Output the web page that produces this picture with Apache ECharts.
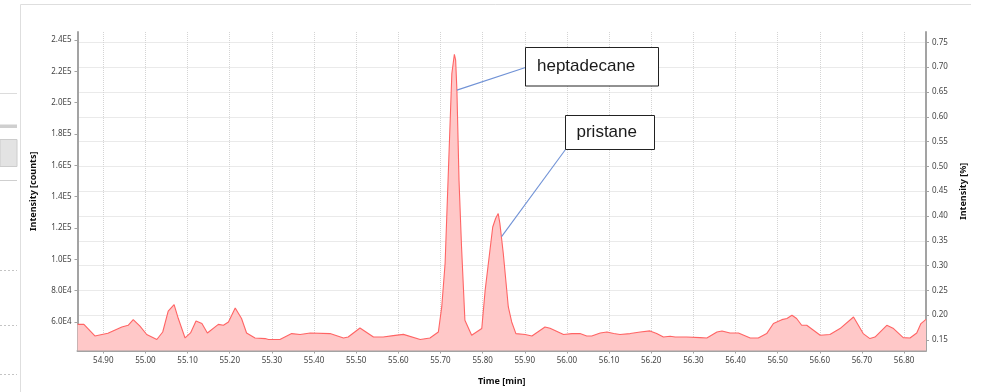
<!DOCTYPE html>
<html>
<head>
<meta charset="utf-8">
<script src="https://cdn.jsdelivr.net/npm/echarts@6/dist/echarts.min.js"></script>
<style>
  html, body { margin: 0; padding: 0; background: #fff; }
  #chart { width: 984px; height: 392px; }
</style>
</head>
<body>
<div id="chart"></div>
<script>
// Retention time (min) of each scan and its total ion intensity (counts)
const times = [
  54.839, 54.854, 54.880, 54.911, 54.944, 54.959, 54.971, 54.987, 55.003, 55.027,
  55.041, 55.054, 55.068, 55.078, 55.094, 55.107, 55.120, 55.134, 55.147, 55.173,
  55.185, 55.197, 55.213, 55.228, 55.240, 55.260, 55.284, 55.292, 55.319, 55.347,
  55.367, 55.391, 55.438, 55.470, 55.481, 55.509, 55.541, 55.564, 55.588, 55.612,
  55.652, 55.675, 55.695, 55.703, 55.711, 55.718, 55.727, 55.733, 55.736, 55.739,
  55.744, 55.750, 55.758, 55.774, 55.798, 55.806, 55.824, 55.831, 55.837, 55.841,
  55.849, 55.861, 55.869, 55.879, 55.901, 55.917, 55.948, 55.960, 55.992, 56.012,
  56.031, 56.047, 56.059, 56.079, 56.095, 56.111, 56.126, 56.150, 56.174, 56.197,
  56.213, 56.229, 56.245, 56.257, 56.284, 56.316, 56.332, 56.356, 56.368, 56.387,
  56.407, 56.435, 56.454, 56.474, 56.490, 56.510, 56.522, 56.534, 56.545, 56.557,
  56.569, 56.601, 56.624, 56.648, 56.680, 56.703, 56.719, 56.731, 56.759, 56.775,
  56.798, 56.814, 56.830, 56.840, 56.852
];
const intensities = [
  58500, 58500, 51100, 52800, 56800, 57900, 61500, 57300, 52000, 48800,
  53600, 67000, 71100, 62200, 49800, 53000, 60600, 59000, 53000, 58500,
  57900, 60000, 68900, 62200, 53000, 49800, 49400, 48800, 48800, 52600,
  52000, 53000, 52600, 49800, 50400, 56200, 50400, 50400, 51300, 52100,
  48800, 49800, 53600, 69600, 97500, 150500, 218600, 230900, 227100, 208000,
  150500, 107900, 61100, 51500, 55800, 80200, 120600, 126200, 129200, 122800,
  103900, 69600, 60000, 52600, 52000, 51100, 56800, 56000, 52000, 52600,
  52600, 51100, 51100, 53000, 53600, 52600, 52000, 52600, 53600, 54300,
  52600, 50400, 50900, 50400, 50400, 50000, 49800, 53600, 54300, 53000,
  53000, 49800, 49800, 52600, 59000, 61500, 62200, 64300, 62200, 57900,
  57900, 51500, 52000, 55800, 63200, 52600, 49400, 50400, 57900, 55800,
  50000, 49800, 53000, 59000, 61700
];

// Tick positions
const timeTicks = [54.9, 55.0, 55.1, 55.2, 55.3, 55.4, 55.5, 55.6, 55.7, 55.8,
                   55.9, 56.0, 56.1, 56.2, 56.3, 56.4, 56.5, 56.6, 56.7, 56.8];
const countTicks = [60000, 80000, 100000, 120000, 140000, 160000, 180000, 200000, 220000, 240000];
const percentTicks = [0.15, 0.20, 0.25, 0.30, 0.35, 0.40, 0.45, 0.50, 0.55, 0.60, 0.65, 0.70, 0.75];

// Peak labels and the point on the trace each one points at
const peakNames = ['heptadecane', 'pristane'];
const peakTimes = [55.739, 55.845];
const peakValues = [208000, 114500];

const chart = echarts.init(document.getElementById('chart'), null, { renderer: 'canvas' });

const axisGray = '#a3a3a3';
const labelStyle = { color: '#444', fontSize: 8, fontFamily: 'Noto Sans' };
const nameStyle = { color: '#111', fontSize: 9, fontWeight: 'bold', fontFamily: 'Noto Sans' };

chart.setOption({
  animation: false,
  backgroundColor: '#fff',
  grid: { left: 77.5, right: 58, top: 32, bottom: 41.5, containLabel: false },
  xAxis: {
    type: 'value',
    min: 54.8388,
    max: 56.852,
    name: 'Time [min]',
    nameLocation: 'middle',
    nameGap: 26,
    nameTextStyle: nameStyle,
    axisLine: { show: true, onZero: false, lineStyle: { color: axisGray, width: 2 } },
    axisTick: { show: true, length: 3, lineStyle: { color: axisGray }, customValues: timeTicks },
    axisLabel: Object.assign({ margin: 6, customValues: timeTicks, formatter: v => v.toFixed(2) }, labelStyle),
    splitLine: { show: true, lineStyle: { color: '#d4d4d4', type: 'dotted', width: 1 } }
  },
  yAxis: [
    {
      type: 'value',
      position: 'left',
      min: 41800,
      max: 245100,
      name: 'Intensity [counts]',
      nameLocation: 'middle',
      nameGap: 40,
      nameTextStyle: nameStyle,
      axisLine: { show: true, lineStyle: { color: axisGray, width: 2 } },
      axisTick: { show: true, length: 3, lineStyle: { color: axisGray }, customValues: countTicks },
      axisLabel: Object.assign({
        margin: 6, customValues: countTicks,
        formatter: v => v.toExponential(1).toUpperCase().replace('+', '')
      }, labelStyle),
      splitLine: { show: false }
    },
    {
      type: 'value',
      position: 'right',
      min: 0.1288,
      max: 0.771,
      name: 'Intensity [%]',
      nameLocation: 'middle',
      nameGap: 28,
      nameTextStyle: nameStyle,
      axisLine: { show: true, lineStyle: { color: axisGray, width: 2 } },
      axisTick: { show: true, length: 3, lineStyle: { color: axisGray }, customValues: percentTicks },
      axisLabel: Object.assign({ margin: 6, customValues: percentTicks, formatter: v => v.toFixed(2) }, labelStyle),
      splitLine: { show: true, lineStyle: { color: '#d4d4d4', type: 'dotted', width: 1 } }
    }
  ],
  series: [{
    type: 'line',
    xAxisIndex: 0,
    yAxisIndex: 0,
    data: times.map((t, i) => [t, intensities[i]]),
    showSymbol: false,
    symbol: 'none',
    smooth: false,
    lineStyle: { color: '#ff6464', width: 1.1 },
    areaStyle: { color: '#ffc8c8', opacity: 1, origin: 'start' },
    z: 3
  }]
});

// Window chrome around the plot panel, plus the peak call-outs
const chrome = [
  { type: 'line', shape: { x1: 20.5, y1: 4.5, x2: 971, y2: 4.5 }, style: { stroke: '#dedede', lineWidth: 1 } },
  { type: 'line', shape: { x1: 20.5, y1: 4.5, x2: 20.5, y2: 392 }, style: { stroke: '#dedede', lineWidth: 1 } },
  { type: 'line', shape: { x1: 0, y1: 93.5, x2: 17, y2: 93.5 }, style: { stroke: '#dcdcdc', lineWidth: 1 } },
  { type: 'rect', shape: { x: 0, y: 124.5, width: 17, height: 3.5 }, style: { fill: '#cfcfcf' } },
  { type: 'rect', shape: { x: 0, y: 139.5, width: 17, height: 27 }, style: { fill: '#e3e3e3', stroke: '#cccccc', lineWidth: 1 } },
  { type: 'line', shape: { x1: 0, y1: 180.5, x2: 17, y2: 180.5 }, style: { stroke: '#cfcfcf', lineWidth: 1 } },
  { type: 'line', shape: { x1: 0, y1: 270.5, x2: 17, y2: 270.5 }, style: { stroke: '#c4c4c4', lineWidth: 1, lineDash: [2, 2] } },
  { type: 'line', shape: { x1: 0, y1: 325.5, x2: 17, y2: 325.5 }, style: { stroke: '#c4c4c4', lineWidth: 1, lineDash: [2, 2] } },
  { type: 'line', shape: { x1: 0, y1: 374.5, x2: 17, y2: 374.5 }, style: { stroke: '#c4c4c4', lineWidth: 1, lineDash: [2, 2] } }
];

// Call-out boxes: [left, top, width, height] and where the text starts inside
const boxes = [
  { rect: [525.5, 47.5, 133, 38.5], textX: 537, leaderFrom: [525.5, 67.5] },
  { rect: [565.5, 115.5, 89, 34], textX: 576.5, leaderFrom: [565.5, 149.5] }
];

const callouts = [];
peakNames.forEach((name, i) => {
  const p = chart.convertToPixel({ seriesIndex: 0 }, [peakTimes[i], peakValues[i]]);
  const b = boxes[i];
  callouts.push({
    type: 'line', z: 20,
    shape: { x1: b.leaderFrom[0], y1: b.leaderFrom[1], x2: p[0], y2: p[1] },
    style: { stroke: '#7092d6', lineWidth: 1.1 }
  });
  callouts.push({
    type: 'rect', z: 21,
    shape: { x: b.rect[0], y: b.rect[1], width: b.rect[2], height: b.rect[3] },
    style: { fill: '#ffffff', stroke: '#222', lineWidth: 1 }
  });
  callouts.push({
    type: 'text', z: 22,
    x: b.textX, y: b.rect[1] + b.rect[3] / 2,
    style: {
      text: name, fill: '#1a1a1a', fontSize: 17,
      fontFamily: 'Liberation Sans, Arial, sans-serif',
      verticalAlign: 'middle', align: 'left'
    }
  });
});

chart.setOption({ graphic: { elements: chrome.concat(callouts) } });
</script>
</body>
</html>
